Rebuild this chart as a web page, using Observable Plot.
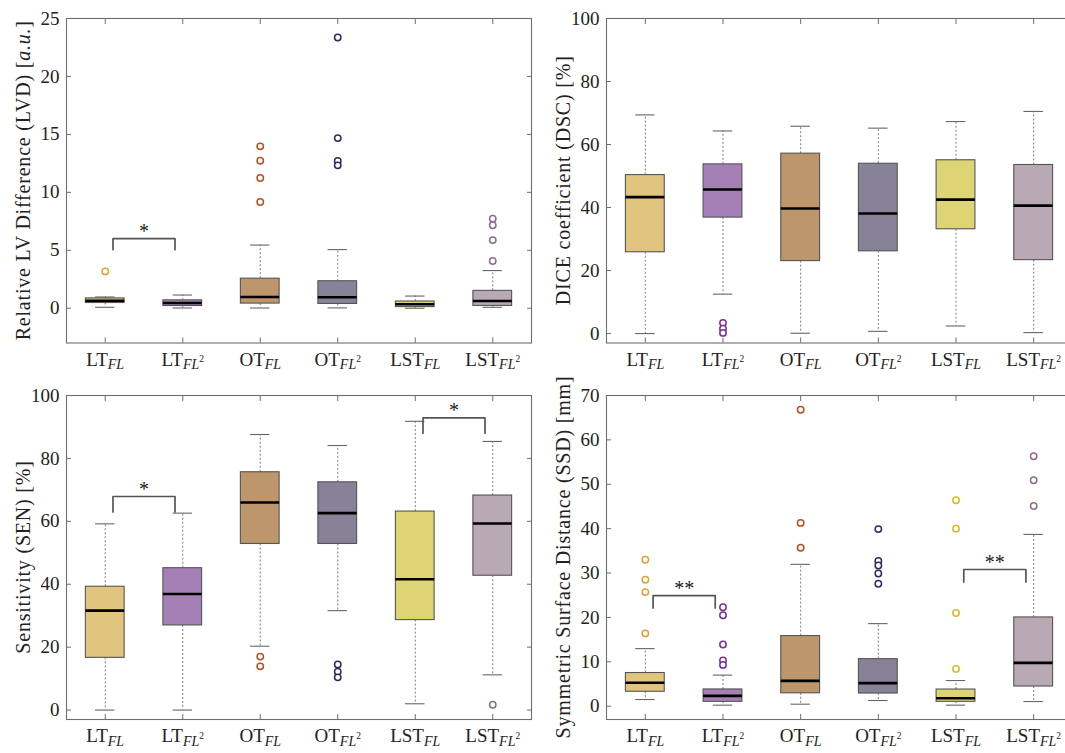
<!DOCTYPE html>
<html><head><meta charset="utf-8">
<script src="https://cdn.jsdelivr.net/npm/d3@7"></script>
<script src="https://cdn.jsdelivr.net/npm/@observablehq/plot@0.6"></script>
<style>
html,body{margin:0;padding:0;background:#fff;overflow:hidden;width:1065px;height:753px;}
#root{position:relative;width:1065px;height:753px;overflow:hidden;}
.panel{position:absolute;overflow:visible;}
.panel svg{overflow:visible;max-width:none;display:block;}
</style></head><body><div id="root"></div>
<script>
// categories: base | subscript
const groups = ["LT|FL", "LT|FL2", "OT|FL", "OT|FL2", "LST|FL", "LST|FL2"];
const boxFills = ["#e1c57f", "#a580b6", "#bd966c", "#878298", "#ddd574", "#b9a9b5"];
const outColors = ["#e0a23a", "#7a2e98", "#b45222", "#2d2b5e", "#d6bc22", "#8f6c8c"];

// LVD panel
const lvdQ1 = [0.45, 0.19, 0.40, 0.37, 0.10, 0.20];
const lvdMed = [0.65, 0.45, 0.97, 0.95, 0.34, 0.63];
const lvdQ3 = [0.85, 0.68, 2.55, 2.33, 0.58, 1.50];
const lvdLo = [0.08, 0.02, 0.02, 0.03, 0.00, 0.08];
const lvdHi = [0.97, 1.14, 5.45, 5.06, 1.05, 3.25];
const lvdOut = [[3.18], [], [13.97, 12.73, 11.24, 9.17], [23.36, 14.68, 12.70, 12.33], [], [7.73, 7.16, 5.88, 4.07]];
const lvdTicks = [0, 5, 10, 15, 20, 25];
const lvdSigFrom = [1], lvdSigTo = [2], lvdSigTop = [6.0], lvdSigDrop = [5.05], lvdSigLabel = ["*"];

// DSC panel
const dscQ1 = [25.8, 36.8, 23.0, 26.1, 33.1, 23.3];
const dscMed = [43.3, 45.7, 39.7, 38.1, 42.5, 40.6];
const dscQ3 = [50.3, 53.7, 57.1, 53.9, 55.0, 53.5];
const dscLo = [0.0, 12.5, 0.1, 0.7, 2.4, 0.3];
const dscHi = [69.4, 64.3, 65.8, 65.2, 67.3, 70.5];
const dscOut = [[], [3.4, 1.5, 0.2], [], [], [], []];
const dscTicks = [0, 20, 40, 60, 80, 100];
const dscSigFrom = [], dscSigTo = [], dscSigTop = [], dscSigDrop = [], dscSigLabel = [];

// SEN panel
const senQ1 = [16.6, 26.9, 52.8, 52.8, 28.6, 42.7];
const senMed = [31.6, 36.9, 66.0, 62.6, 41.6, 59.3];
const senQ3 = [39.2, 45.1, 75.6, 72.4, 63.1, 68.2];
const senLo = [0.0, 0.0, 20.3, 31.6, 2.0, 11.2];
const senHi = [59.2, 62.6, 87.6, 84.1, 91.8, 85.4];
const senOut = [[], [], [17.0, 13.9], [14.5, 12.2, 10.4], [], [1.7]];
const senTicks = [0, 20, 40, 60, 80, 100];
const senSigFrom = [1, 5], senSigTo = [2, 6], senSigTop = [67.9, 92.9], senSigDrop = [63.0, 88.0], senSigLabel = ["*", "*"];

// SSD panel
const ssdQ1 = [3.25, 0.98, 2.9, 2.85, 0.98, 4.43];
const ssdMed = [5.28, 2.33, 5.7, 5.2, 1.8, 9.75];
const ssdQ3 = [7.47, 3.77, 15.8, 10.6, 3.75, 20.0];
const ssdLo = [1.5, 0.23, 0.45, 1.28, 0.23, 1.05];
const ssdHi = [12.97, 7.0, 31.96, 18.6, 5.78, 38.7];
const ssdOut = [[33.0, 28.5, 25.7, 16.4], [22.3, 20.5, 13.9, 10.3, 9.3], [66.8, 41.3, 35.7], [39.9, 32.7, 31.7, 29.9, 27.6], [46.4, 40.0, 21.0, 8.4], [56.3, 50.9, 45.1]];
const ssdTicks = [0, 10, 20, 30, 40, 50, 60, 70];
const ssdSigFrom = [1, 5], ssdSigTo = [2, 6], ssdSigTop = [24.9, 30.8], ssdSigDrop = [22.1, 28.0], ssdSigLabel = ["**", "**"];

const FONT = "'Liberation Serif', 'DejaVu Serif', serif";
const AX = "#6e6e6e";

function panel(cfg) {
  const idx = groups.map((g, k) => k + 1);
  const boxes = groups.map((g, k) => ({
    i: k + 1, q1: cfg.q1[k], med: cfg.med[k], q3: cfg.q3[k], lo: cfg.lo[k], hi: cfg.hi[k],
    fill: boxFills[k]
  }));
  const outs = cfg.out.flatMap((vals, k) => vals.map(v => ({i: k + 1, v, c: outColors[k]})));
  const sigs = cfg.sigFrom.map((f, j) => ({from: f, to: cfg.sigTo[j], top: cfg.sigTop[j], drop: cfg.sigDrop[j], label: cfg.sigLabel[j], mid: (f + cfg.sigTo[j]) / 2}));
  const inset = 0.1;
  const bracketPts = sigs.flatMap((s, j) => [
    {k: j, x: s.from + inset, y: s.drop},
    {k: j, x: s.from + inset, y: s.top},
    {k: j, x: s.to - inset, y: s.top},
    {k: j, x: s.to - inset, y: s.drop}
  ]);
  const hw = 0.25, cw = 0.125;
  const svg = Plot.plot({
    width: cfg.width, height: cfg.height,
    marginLeft: cfg.ml, marginRight: cfg.mr, marginTop: cfg.mt, marginBottom: cfg.mb,
    x: {type: "linear", domain: [0.5, 6.5]},
    y: {domain: cfg.yDomain},
    style: {fontFamily: FONT, fontSize: "19px", background: "transparent", overflow: "visible", maxWidth: "none", color: "#222"},
    marks: [
      Plot.ruleX(boxes, {x: "i", y1: "q3", y2: "hi", stroke: "#7c7c7c", strokeDasharray: "2,2"}),
      Plot.ruleX(boxes, {x: "i", y1: "q1", y2: "lo", stroke: "#7c7c7c", strokeDasharray: "2,2"}),
      Plot.rect(boxes, {x1: d => d.i - hw, x2: d => d.i + hw, y1: "q1", y2: "q3", fill: "fill", stroke: "#555", strokeWidth: 1.1}),
      Plot.ruleY(boxes, {y: "med", x1: d => d.i - hw, x2: d => d.i + hw, stroke: "#000", strokeWidth: 2.6}),
      Plot.ruleY(boxes, {y: "hi", x1: d => d.i - cw, x2: d => d.i + cw, stroke: "#666", strokeWidth: 1.1}),
      Plot.ruleY(boxes, {y: "lo", x1: d => d.i - cw, x2: d => d.i + cw, stroke: "#666", strokeWidth: 1.1}),
      Plot.dot(outs, {x: "i", y: "v", r: 3.2, stroke: "c", strokeWidth: 1.5, fill: "white"}),
      Plot.line(bracketPts, {x: "x", y: "y", z: "k", stroke: "#555", strokeWidth: 1.7}),
      Plot.text(sigs, {x: "mid", y: "top", text: "label", dy: -7, fontSize: 20, fill: "#1a1a1a"}),
      Plot.frame({stroke: AX, strokeWidth: 1.1}),
      Plot.axisY({anchor: "left", ticks: cfg.yTicks, tickSize: -5, tickPadding: 12, label: null, stroke: AX}),
      Plot.axisY({anchor: "right", ticks: cfg.yTicks, tickSize: -5, tickFormat: () => "", label: null, stroke: AX}),
      Plot.axisX({anchor: "bottom", ticks: idx, tickSize: -5, tickPadding: 14, tickFormat: d => groups[d - 1], label: null, stroke: AX}),
      Plot.axisX({anchor: "top", ticks: idx, tickSize: -5, tickFormat: () => "", label: null, stroke: AX})
    ]
  });
  const s = d3.select(svg);
  // math-style tick labels: base + italic subscript (+ superscript 2)
  s.selectAll('g[aria-label="x-axis tick label"] text').each(function() {
    const t = this.textContent;
    if (!t) return;
    const [base, sub] = t.split("|");
    const sq = sub.endsWith("2");
    const el = d3.select(this);
    el.text(null);
    el.append("tspan").text(base);
    el.append("tspan").attr("font-style", "italic").attr("font-size", 14).attr("dy", 4).text(sq ? sub.slice(0, -1) : sub);
    if (sq) el.append("tspan").attr("font-size", 9.5).attr("dy", -7).text("2");
  });
  // y-axis title
  const cy = (cfg.mt + cfg.height - cfg.mb) / 2;
  const lab = s.append("text")
    .attr("transform", `translate(${cfg.ml - 36},${cy}) rotate(-90)`)
    .attr("text-anchor", "middle")
    .attr("font-family", FONT).attr("font-size", 20).attr("fill", "#222")
    .attr("letter-spacing", "0.8px");
  cfg.label.forEach(([txt, it]) => lab.append("tspan").attr("font-style", it ? "italic" : "normal").text(txt));
  const div = document.createElement("div");
  div.className = "panel";
  div.style.left = cfg.left + "px";
  div.style.top = cfg.top + "px";
  div.appendChild(svg);
  document.getElementById("root").appendChild(div);
}

const L = {left: 0, width: 540, ml: 66, mr: 9};
const R = {left: 532, width: 545, ml: 74, mr: 5};
const T = {top: 0, height: 376, mt: 18, mb: 33.5};
const B = {top: 376, height: 377, mt: 19, mb: 34};

panel({...L, ...T, yDomain: [-3, 25], yTicks: lvdTicks, q1: lvdQ1, med: lvdMed, q3: lvdQ3, lo: lvdLo, hi: lvdHi, out: lvdOut,
  sigFrom: lvdSigFrom, sigTo: lvdSigTo, sigTop: lvdSigTop, sigDrop: lvdSigDrop, sigLabel: lvdSigLabel,
  label: [["Relative LV Difference (LVD) [", false], ["a.u.", true], ["]", false]]});
panel({...R, ...T, yDomain: [-3, 100], yTicks: dscTicks, q1: dscQ1, med: dscMed, q3: dscQ3, lo: dscLo, hi: dscHi, out: dscOut,
  sigFrom: dscSigFrom, sigTo: dscSigTo, sigTop: dscSigTop, sigDrop: dscSigDrop, sigLabel: dscSigLabel,
  label: [["DICE coefficient (DSC) [%]", false]]});
panel({...L, ...B, yDomain: [-3, 100], yTicks: senTicks, q1: senQ1, med: senMed, q3: senQ3, lo: senLo, hi: senHi, out: senOut,
  sigFrom: senSigFrom, sigTo: senSigTo, sigTop: senSigTop, sigDrop: senSigDrop, sigLabel: senSigLabel,
  label: [["Sensitivity (SEN) [%]", false]]});
panel({...R, ...B, yDomain: [-3, 70], yTicks: ssdTicks, q1: ssdQ1, med: ssdMed, q3: ssdQ3, lo: ssdLo, hi: ssdHi, out: ssdOut,
  sigFrom: ssdSigFrom, sigTo: ssdSigTo, sigTop: ssdSigTop, sigDrop: ssdSigDrop, sigLabel: ssdSigLabel,
  label: [["Symmetric Surface Distance (SSD) [mm]", false]]});
</script></body></html>
